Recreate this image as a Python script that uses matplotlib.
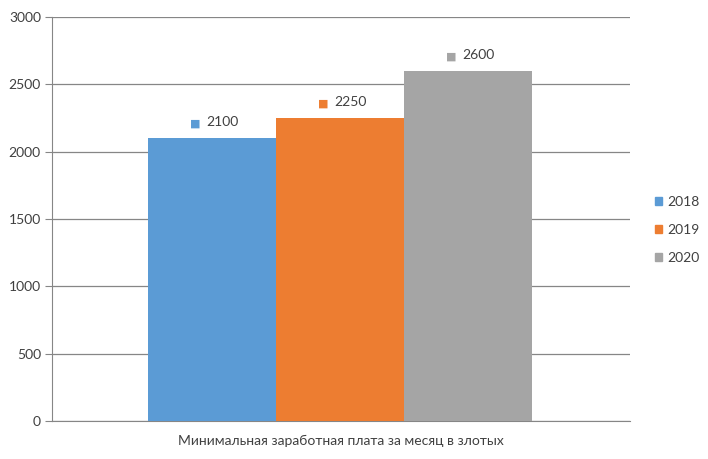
import matplotlib.pyplot as plt
from matplotlib.patches import Patch

plt.rcParams['font.family'] = ['Lato', 'DejaVu Sans']

# Data
years = ['2018', '2019', '2020']
wages = [2100, 2250, 2600]
colors = ['#5b9bd5', '#ed7d31', '#a5a5a5']
category = 'Минимальная заработная плата за месяц в злотых'

fig = plt.figure(figsize=(7.08, 4.59), dpi=100)
ax = fig.add_axes([52 / 708, 38 / 459, 578 / 708, 404 / 459])

width = 0.2215
offsets = [-width, 0, width]
for off, val, col in zip(offsets, wages, colors):
    ax.bar(off, val, width=width, color=col, zorder=3)
    ax.annotate('■', (off, val), xytext=(-12, 7), textcoords='offset points',
                ha='center', va='bottom', color=col, fontsize=8)
    ax.annotate(str(val), (off, val), xytext=(-4, 7), textcoords='offset points',
                ha='left', va='bottom', color='#404040', fontsize=10)

ax.set_xlim(-0.498, 0.502)
ax.set_ylim(0, 3000)
ax.set_yticks(range(0, 3001, 500))
ax.grid(axis='y', color='#868686', linewidth=0.9, zorder=0)
ax.set_xticks([])
ax.set_xlabel(category, fontsize=10, color='#404040', labelpad=10)

for s in ['top', 'right']:
    ax.spines[s].set_visible(False)
ax.spines['left'].set_color('#868686')
ax.spines['bottom'].set_color('#868686')
ax.tick_params(axis='y', length=5, color='#868686', labelsize=10, labelcolor='#404040', pad=3)

handles = [Patch(color=c) for c in colors]
fig.legend(handles, years, loc='center left', bbox_to_anchor=(642 / 708, 229 / 459),
           frameon=False, fontsize=10, handlelength=0.55, handleheight=0.55,
           handletextpad=0.35, labelspacing=1.15, labelcolor='#404040')

fig.savefig('out.png', dpi=100)
